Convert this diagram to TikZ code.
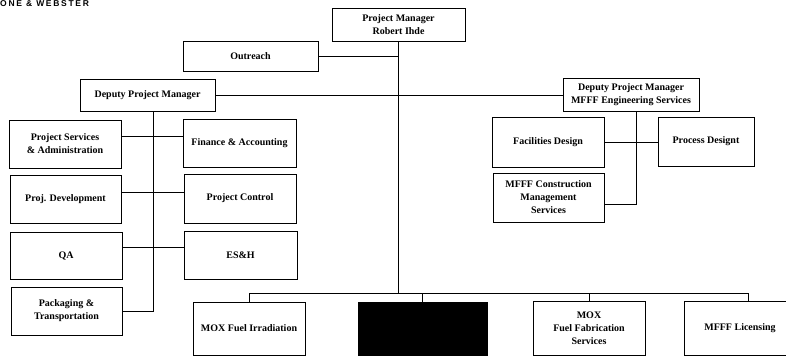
\documentclass[tikz,border=0pt]{standalone}
\usepackage{fontspec}
\setmainfont{Liberation Serif}
\newfontfamily\hdrfont[LetterSpace=20]{Liberation Sans}
\begin{document}
\begin{tikzpicture}[x=1pt,y=-1pt,
  box/.style={draw=black,line width=0.9pt,rectangle,align=center,inner sep=0pt,
    font=\bfseries\fontsize{10}{13}\selectfont},
  conn/.style={draw=black,line width=0.9pt}]
\useasboundingbox (0,0) rectangle (786,356);
\clip (0,0) rectangle (786,356);
\node[anchor=base west,inner sep=0pt,font=\hdrfont\bfseries\fontsize{8.5}{10}\selectfont] (hdr) at (0,6.8) {ONE \& WEBSTER};
% top
\node[box,minimum width=133pt,minimum height=33pt] (pm) at (398.5,24.5) {Project Manager\\Robert Ihde};
\node[box,minimum width=135pt,minimum height=30pt] (outreach) at (250.5,56) {Outreach};
\node[box,minimum width=135pt,minimum height=32pt] (dpm) at (147.5,95) {Deputy Project Manager};
\node[box,minimum width=136pt,minimum height=33pt] (dpm2) at (631,94.5) {Deputy Project Manager\\MFFF Engineering Services};
% left group
\node[box,minimum width=112pt,minimum height=48pt] (psa) at (65,144) {Project Services\\\& Administration};
\node[box,minimum width=113pt,minimum height=48pt] (fa) at (239.5,143) {Finance \& Accounting};
\node[box,minimum width=111pt,minimum height=48pt] (pd) at (65.5,199) {Proj. Development};
\node[box,minimum width=112pt,minimum height=49pt] (pc) at (240,198.5) {Project Control};
\node[box,minimum width=112pt,minimum height=47pt] (qa) at (66,255.5) {QA};
\node[box,minimum width=113pt,minimum height=48pt] (esh) at (240.5,255) {ES\&H};
\node[box,minimum width=111pt,minimum height=48pt] (pt) at (66.5,311) {Packaging \&\\Transportation};
% right group
\node[box,minimum width=112pt,minimum height=50pt] (fd) at (548,142) {Facilities Design};
\node[box,minimum width=96pt,minimum height=49pt] (prd) at (706,141.5) {Process Designt};
\node[box,minimum width=111pt,minimum height=49pt] (mcms) at (548.5,197.5) {MFFF Construction\\Management\\Services};
% bottom row
\node[box,minimum width=112pt,minimum height=53pt] (irr) at (249,328.5) {MOX Fuel Irradiation};
\node[box,fill=black,minimum width=129pt,minimum height=53pt] (blk) at (422.5,328.5) {};
\node[box,minimum width=112pt,minimum height=54pt] (fab) at (589,328) {MOX\\Fuel Fabrication\\Services};
\node[box,minimum width=112pt,minimum height=54pt] (lic) at (740,328) {MFFF Licensing};
% connectors
\coordinate (busc) at (398.5,293);
\draw[conn] (pm.south) -- (busc);
\draw[conn] (outreach.east) -- (outreach.east -| pm.south);
\draw[conn] (dpm.east) -- (dpm.east -| dpm2.west);
\draw[conn] ([xshift=5.5pt]dpm.south) -- ([xshift=5.5pt]dpm.south |- pt.east) -- (pt.east);
\draw[conn] ([yshift=8pt]psa.east) -- ([yshift=8pt]psa.east -| fa.west);
\draw[conn] ([yshift=7pt]pd.east) -- ([yshift=7pt]pd.east -| pc.west);
\draw[conn] ([yshift=8.5pt]qa.east) -- ([yshift=8.5pt]qa.east -| esh.west);
\draw[conn] ([xshift=5pt]dpm2.south) -- ([xshift=5pt,yshift=-6.5pt]dpm2.south |- mcms.east) -- ([yshift=-6.5pt]mcms.east);
\draw[conn] (fd.east) -- (fd.east -| prd.west);
\draw[conn] (busc) -| (irr.north);
\draw[conn] (busc) -| (blk.north);
\draw[conn] (busc) -| (fab.north);
\draw[conn] (busc) -| ([xshift=8pt]lic.north);
\end{tikzpicture}
\end{document}
